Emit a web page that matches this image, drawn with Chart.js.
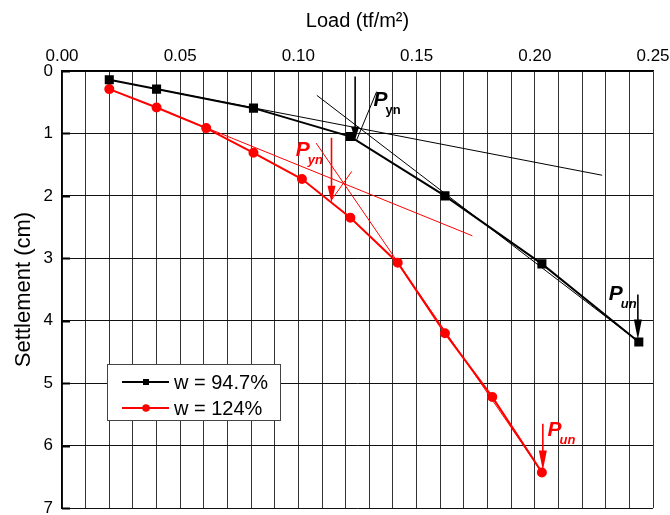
<!DOCTYPE html>
<html>
<head>
<meta charset="utf-8">
<script src="https://cdn.jsdelivr.net/npm/chart.js@4.4.0/dist/chart.umd.min.js"></script>
<style>
  html, body { margin: 0; padding: 0; background: #fff; }
</style>
</head>
<body>
<canvas id="settleChart" width="670" height="515"></canvas>
<script>
// measured series (load in tf/m2, settlement in cm)
const seriesNames = ['w = 94.7%', 'w = 124%']
const seriesColors = ['#000000', '#ff0000']
const loadBlack = [0.02, 0.04, 0.081, 0.122, 0.162, 0.203, 0.244]
const settleBlack = [0.14, 0.29, 0.595, 1.05, 2.0, 3.09, 4.34]
const loadRed = [0.02, 0.04, 0.061, 0.081, 0.1015, 0.122, 0.142, 0.162, 0.182, 0.203]
const settleRed = [0.29, 0.585, 0.915, 1.31, 1.73, 2.35, 3.07, 4.2, 5.22, 6.43]

// construction lines (tangents + leaders), each as [load, settlement] pairs
const guideLoad = [
  [0.04, 0.2285], [0.1078, 0.244], [0.1331, 0.1247],
  [0.04, 0.1736], [0.1075, 0.203], [0.1226, 0.1141]
]
const guideSettle = [
  [0.29, 1.67], [0.39, 4.34], [0.33, 1.10],
  [0.585, 2.64], [1.155, 6.43], [1.607, 2.06]
]
const guideSeries = [0, 0, 0, 1, 1, 1]

// arrows marking Pyn / Pun
const arrowLoad = [0.124, 0.114, 0.2436, 0.2034]
const arrowFrom = [0.09, 1.07, 3.58, 5.65]
const arrowTo = [1.10, 2.11, 4.30, 6.40]
const arrowSeries = [0, 1, 0, 1]

// labels next to the arrows
const markLoad = [0.1318, 0.0989, 0.2313, 0.2054]
const markSettle = [0.564, 1.367, 3.674, 5.84]
const markSub = ['yn', 'yn', 'un', 'un']
const markSeries = [0, 1, 0, 1]

const fontFamily = '"Liberation Sans", Arial, sans-serif'

const toPoints = (xs, ys) => xs.map((x, i) => ({ x: x, y: ys[i] }))

const guideSets = guideLoad.map((xs, i) => ({
  label: 'guide' + i,
  data: toPoints(xs, guideSettle[i]),
  showLine: true,
  borderColor: seriesColors[guideSeries[i]],
  borderWidth: 1,
  pointRadius: 0,
  fill: false
}))

const extras = {
  id: 'extras',
  afterDatasetsDraw(chart) {
    const ctx = chart.ctx
    const xs = chart.scales.x
    const ys = chart.scales.y
    const area = chart.chartArea
    ctx.save()

    // short inner ticks on the settlement axis
    ctx.strokeStyle = '#000'
    ctx.lineWidth = 2
    ys.ticks.forEach(t => {
      const py = Math.round(ys.getPixelForValue(t.value)) + 0.5
      ctx.beginPath()
      ctx.moveTo(area.left, py)
      ctx.lineTo(area.left + 8, py)
      ctx.stroke()
    })

    // arrows
    arrowLoad.forEach((v, i) => {
      const px = xs.getPixelForValue(v)
      const y0 = ys.getPixelForValue(arrowFrom[i])
      const y1 = ys.getPixelForValue(arrowTo[i])
      const head = i === 0 ? 13 : (i === 1 ? 17 : 20)
      ctx.strokeStyle = seriesColors[arrowSeries[i]]
      ctx.fillStyle = seriesColors[arrowSeries[i]]
      ctx.lineWidth = 1.6
      ctx.beginPath()
      ctx.moveTo(px, y0)
      ctx.lineTo(px, y1 - head + 1)
      ctx.stroke()
      ctx.beginPath()
      ctx.moveTo(px - 4, y1 - head)
      ctx.lineTo(px + 4, y1 - head)
      ctx.lineTo(px, y1)
      ctx.closePath()
      ctx.fill()
    })

    // P labels
    ctx.textAlign = 'left'
    ctx.textBaseline = 'alphabetic'
    markLoad.forEach((v, i) => {
      const px = xs.getPixelForValue(v)
      const py = ys.getPixelForValue(markSettle[i])
      ctx.fillStyle = seriesColors[markSeries[i]]
      ctx.font = 'italic bold 21px ' + fontFamily
      ctx.fillText('P', px, py)
      const w = ctx.measureText('P').width
      ctx.font = (i === 0 ? '' : 'italic ') + 'bold 13px ' + fontFamily
      ctx.fillText(markSub[i], px + w - 2, py + 8)
    })

    // legend box inside the plot
    const bx = area.left + 45
    const by = area.top + 293
    const bw = 173
    const bh = 56
    ctx.fillStyle = '#ffffff'
    ctx.fillRect(bx, by, bw, bh)
    ctx.strokeStyle = '#444'
    ctx.lineWidth = 1
    ctx.strokeRect(bx + 0.5, by + 0.5, bw, bh)
    ctx.font = '20px ' + fontFamily
    ctx.textBaseline = 'middle'
    seriesNames.forEach((name, i) => {
      const ly = by + 18 + i * 26
      ctx.strokeStyle = seriesColors[i]
      ctx.fillStyle = seriesColors[i]
      ctx.lineWidth = 2
      ctx.beginPath()
      ctx.moveTo(bx + 15, ly)
      ctx.lineTo(bx + 62, ly)
      ctx.stroke()
      if (i === 0) {
        ctx.fillRect(bx + 36, ly - 3, 6, 6)
      } else {
        ctx.beginPath()
        ctx.arc(bx + 39, ly, 3.8, 0, Math.PI * 2)
        ctx.fill()
      }
      ctx.fillStyle = '#000'
      ctx.fillText(name, bx + 67, ly + 1)
    })
    ctx.restore()
  }
}

window.addEventListener('load', function () {
  const ctx = document.getElementById('settleChart').getContext('2d')
  window.settleChart = new Chart(ctx, {
    type: 'scatter',
    data: {
      datasets: guideSets.concat([
        {
          label: seriesNames[0],
          data: toPoints(loadBlack, settleBlack),
          showLine: true,
          borderColor: seriesColors[0],
          backgroundColor: seriesColors[0],
          borderWidth: 2,
          pointStyle: 'rect',
          pointRadius: 5,
          pointHoverRadius: 5
        },
        {
          label: seriesNames[1],
          data: toPoints(loadRed, settleRed),
          showLine: true,
          borderColor: seriesColors[1],
          backgroundColor: seriesColors[1],
          borderWidth: 2,
          pointStyle: 'circle',
          pointRadius: 4,
          pointHoverRadius: 4
        }
      ])
    },
    options: {
      responsive: false,
      animation: false,
      layout: { padding: { left: 0, right: 17, top: 0, bottom: 5 } },
      plugins: {
        legend: { display: false },
        tooltip: { enabled: false }
      },
      scales: {
        x: {
          type: 'linear',
          position: 'top',
          min: 0,
          max: 0.25,
          afterFit(scale) {
            scale.height = 71
            scale.paddingLeft = 0
            scale.paddingRight = 0
          },
          title: {
            display: true,
            text: 'Load (tf/m\u00B2)',
            color: '#000',
            font: { family: fontFamily, size: 20 },
            padding: { top: 9, bottom: 0 }
          },
          ticks: {
            stepSize: 0.01,
            autoSkip: false,
            maxRotation: 0,
            padding: 4,
            color: '#000',
            font: { family: fontFamily, size: 17 },
            callback: function (v) {
              const k = v * 20
              return Math.abs(k - Math.round(k)) < 1e-6 ? v.toFixed(2) : ''
            }
          },
          grid: { color: '#333', lineWidth: 1, drawTicks: false },
          border: { display: true, color: '#000', width: 1.5 }
        },
        y: {
          type: 'linear',
          reverse: true,
          min: 0,
          max: 7,
          afterFit(scale) {
            scale.width = 62
            scale.paddingTop = 0
            scale.paddingBottom = 0
          },
          title: {
            display: true,
            text: 'Settlement (cm)',
            color: '#000',
            font: { family: fontFamily, size: 22 },
            padding: { top: 11, bottom: 0 }
          },
          ticks: {
            stepSize: 1,
            padding: 9,
            color: '#000',
            font: { family: fontFamily, size: 17 }
          },
          grid: { color: '#111', lineWidth: 1, drawTicks: false },
          border: { display: true, color: '#000', width: 1.5 }
        }
      }
    },
    plugins: [extras]
  })
})
</script>
</body>
</html>
